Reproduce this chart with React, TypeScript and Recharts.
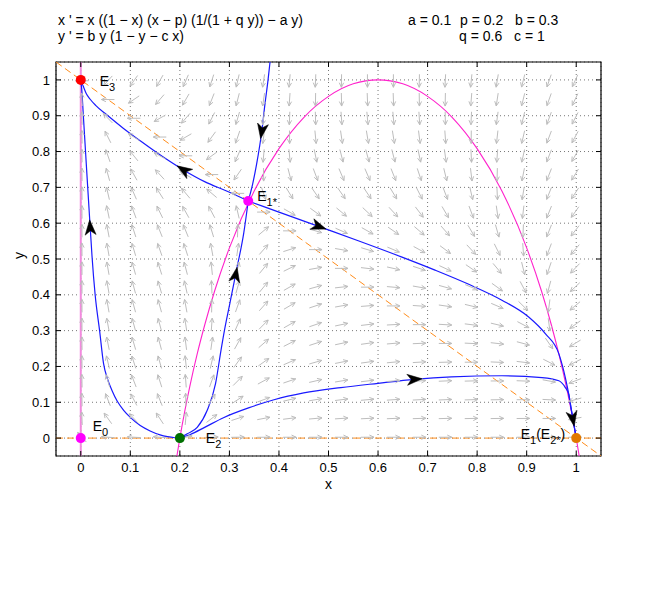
import React from "react";
import {
  ComposedChart,
  CartesianGrid,
  Line,
  ReferenceArea,
  ReferenceLine,
  Scatter,
  XAxis,
  YAxis,
} from "recharts";

// model parameters, as printed on the chart
const a = 0.1;
const p = 0.2;
const b = 0.3;
const q = 0.6;
const c = 1;

const ticks = [0, 0.1, 0.2, 0.3, 0.4, 0.5, 0.6, 0.7, 0.8, 0.9, 1];

// positions of the direction field arrows (same on both axes)
const fieldGrid = [
  0.0024, 0.0548, 0.1071, 0.1595, 0.2119, 0.2643, 0.3167, 0.369, 0.4214, 0.4738,
  0.5262, 0.5786, 0.631, 0.6833, 0.7357, 0.7881, 0.8405, 0.8929, 0.9452, 0.9976,
];

// x-nullcline (magenta)
const xNullcline = [
  { x: 0.194, y: -0.05 }, { x: 0.2, y: 0 }, { x: 0.21, y: 0.076 }, { x: 0.22, y: 0.144 },
  { x: 0.235, y: 0.235 }, { x: 0.25, y: 0.315 }, { x: 0.27, y: 0.41 }, { x: 0.3, y: 0.531 },
  { x: 0.35, y: 0.69 }, { x: 0.4, y: 0.808 }, { x: 0.45, y: 0.895 }, { x: 0.5, y: 0.954 },
  { x: 0.55, y: 0.989 }, { x: 0.6, y: 1.0 }, { x: 0.65, y: 0.989 }, { x: 0.7, y: 0.954 },
  { x: 0.75, y: 0.895 }, { x: 0.8, y: 0.808 }, { x: 0.85, y: 0.69 }, { x: 0.9, y: 0.531 },
  { x: 0.93, y: 0.41 }, { x: 0.95, y: 0.315 }, { x: 0.98, y: 0.144 }, { x: 0.99, y: 0.076 },
  { x: 1.0, y: 0 }, { x: 1.006, y: -0.05 },
];

// y-nullcline y = 1 - c x (orange dashed)
const yNullcline = [
  { x: -0.05, y: 1.05 },
  { x: 1.05, y: -0.05 },
];

// trajectories (blue)
const fromE2toE3 = [
  { x: 0, y: 1 }, { x: 0.0016, y: 0.98 }, { x: 0.0052, y: 0.9 }, { x: 0.0096, y: 0.8 },
  { x: 0.014, y: 0.7 }, { x: 0.0185, y: 0.6 }, { x: 0.0226, y: 0.51 }, { x: 0.029, y: 0.4 },
  { x: 0.038, y: 0.3 }, { x: 0.046, y: 0.208 }, { x: 0.054, y: 0.165 }, { x: 0.063, y: 0.133 },
  { x: 0.074, y: 0.102 }, { x: 0.087, y: 0.077 }, { x: 0.1, y: 0.058 }, { x: 0.12, y: 0.035 },
  { x: 0.14, y: 0.02 }, { x: 0.16, y: 0.009 }, { x: 0.175, y: 0.004 }, { x: 0.19, y: 0.001 },
  { x: 0.2, y: 0 },
];
const fromE2toE1s = [
  { x: 0.2, y: 0 }, { x: 0.215, y: 0.012 }, { x: 0.235, y: 0.03 }, { x: 0.255, y: 0.077 },
  { x: 0.272, y: 0.152 }, { x: 0.283, y: 0.245 }, { x: 0.29, y: 0.301 }, { x: 0.3, y: 0.37 },
  { x: 0.309, y: 0.432 }, { x: 0.316, y: 0.48 }, { x: 0.329, y: 0.573 }, { x: 0.338, y: 0.662 },
];
const fromTopToE1s = [
  { x: 0.338, y: 0.662 }, { x: 0.347, y: 0.71 }, { x: 0.3548, y: 0.764 }, { x: 0.3655, y: 0.858 },
  { x: 0.3718, y: 0.933 }, { x: 0.378, y: 1.0 }, { x: 0.382, y: 1.05 },
];
const fromE1sToE3 = [
  { x: 0, y: 1 }, { x: 0.003, y: 0.989 }, { x: 0.006, y: 0.979 }, { x: 0.011, y: 0.962 },
  { x: 0.019, y: 0.946 }, { x: 0.03, y: 0.929 }, { x: 0.053, y: 0.902 }, { x: 0.085, y: 0.866 },
  { x: 0.12, y: 0.83 }, { x: 0.165, y: 0.786 }, { x: 0.208, y: 0.748 }, { x: 0.25, y: 0.716 },
  { x: 0.2955, y: 0.689 }, { x: 0.338, y: 0.662 },
];
const fromE1sToE1 = [
  { x: 0.338, y: 0.662 }, { x: 0.4, y: 0.631 }, { x: 0.48, y: 0.591 }, { x: 0.56, y: 0.551 },
  { x: 0.647, y: 0.506 }, { x: 0.715, y: 0.469 }, { x: 0.782, y: 0.43 }, { x: 0.85, y: 0.385 },
  { x: 0.904, y: 0.338 }, { x: 0.938, y: 0.291 }, { x: 0.965, y: 0.235 }, { x: 0.978, y: 0.169 },
  { x: 0.985, y: 0.122 }, { x: 0.99, y: 0.08 }, { x: 0.995, y: 0.04 }, { x: 1, y: 0 },
];
const fromE2toE1 = [
  { x: 0.2, y: 0 }, { x: 0.221, y: 0.01 }, { x: 0.25, y: 0.03 }, { x: 0.288, y: 0.057 },
  { x: 0.34, y: 0.085 }, { x: 0.39, y: 0.107 }, { x: 0.45, y: 0.126 }, { x: 0.525, y: 0.141 },
  { x: 0.6, y: 0.153 }, { x: 0.673, y: 0.164 }, { x: 0.748, y: 0.171 }, { x: 0.85, y: 0.174 },
  { x: 0.931, y: 0.169 }, { x: 0.965, y: 0.16 }, { x: 0.978, y: 0.141 }, { x: 0.985, y: 0.122 },
  { x: 0.99, y: 0.08 }, { x: 0.995, y: 0.04 }, { x: 1, y: 0 },
];
const trajectories = [fromE2toE3, fromE2toE1s, fromTopToE1s, fromE1sToE3, fromE1sToE1, fromE2toE1];

// black arrowheads on the trajectories: position and a point further along
const trajArrows = [
  { x: 0.3655, y: 0.858, toX: 0.3548, toY: 0.764 },
  { x: 0.3125, y: 0.455, toX: 0.316, toY: 0.48 },
  { x: 0.208, y: 0.748, toX: 0.165, toY: 0.786 },
  { x: 0.48, y: 0.591, toX: 0.56, toY: 0.551 },
  { x: 0.673, y: 0.164, toX: 0.748, toY: 0.171 },
  { x: 0.993, y: 0.055, toX: 1, toY: 0 },
  { x: 0.019, y: 0.587, toX: 0.014, toY: 0.7 },
];

const equilibria = [
  { name: "E0", x: 0, y: 0 },
  { name: "E2", x: 0.2, y: 0 },
  { name: "E3", x: 0, y: 1 },
  { name: "E1*", x: 0.338, y: 0.662 },
  { name: "E1", x: 1, y: 0 },
];

const W = 663;
const H = 593;
const PLOT_W = 545;
const PLOT_H = 394;
const DOMAIN: [number, number] = [-0.05, 1.05];
const KX = PLOT_W / (DOMAIN[1] - DOMAIN[0]);
const KY = PLOT_H / (DOMAIN[1] - DOMAIN[0]);
const TICK_X = 5 / KX;
const TICK_Y = 5 / KY;

const FONT = '"Liberation Sans", Arial, Helvetica, sans-serif';

const eqStyle: Record<string, any> = {
  E0: { fill: "#ff00ff", dx: 12, dy: -7, anchor: "start", parts: [["E", 0], ["0", 1]] },
  E2: { fill: "#007000", dx: 26, dy: 4.5, anchor: "start", parts: [["E", 0], ["2", 1]] },
  E3: { fill: "#ff0000", dx: 19, dy: 6, anchor: "start", parts: [["E", 0], ["3", 1]] },
  "E1*": { fill: "#ff00ff", dx: 9, dy: 0, anchor: "start", parts: [["E", 0], ["1*", 1]] },
  E1: { fill: "#e07800", dx: -11, dy: 1, anchor: "end", parts: [["E", 0], ["1", 1], ["(E", 0], ["2*", 1], [")", 0]] },
};

// direction field from the equations shown above the plot
const field = fieldGrid.flatMap((y) =>
  fieldGrid.map((x) => ({
    x,
    y,
    u: x * ((1 - x) * (x - p) / (1 + q * y) - a * y),
    v: b * y * (1 - y - c * x),
  }))
);

const rot = (x: number, y: number, t: number) => [
  x * Math.cos(t) - y * Math.sin(t),
  x * Math.sin(t) + y * Math.cos(t),
];

const FieldArrow = (props: any) => {
  const { cx, cy, payload } = props;
  let dx = payload.u * KX;
  let dy = -payload.v * KY;
  const n = Math.hypot(dx, dy);
  if (!n || cx == null) return <g />;
  dx /= n;
  dy /= n;
  const L = 13;
  const x2 = cx + (dx * L) / 2;
  const y2 = cy + (dy * L) / 2;
  const [h1x, h1y] = rot(-dx, -dy, 0.45);
  const [h2x, h2y] = rot(-dx, -dy, -0.45);
  const h = 5;
  return (
    <path
      d={`M${cx - (dx * L) / 2},${cy - (dy * L) / 2}L${x2},${y2}M${x2 + h1x * h},${y2 + h1y * h}L${x2},${y2}L${x2 + h2x * h},${y2 + h2y * h}`}
      stroke="#bdbdbd"
      strokeWidth={1}
      fill="none"
    />
  );
};

const TrajArrow = (props: any) => {
  const { cx, cy, payload } = props;
  if (cx == null) return <g />;
  const ang = (Math.atan2(-(payload.toY - payload.y) * KY, (payload.toX - payload.x) * KX) * 180) / Math.PI;
  return (
    <path
      d="M8,0L-7,-5.5L-3,0L-7,5.5Z"
      transform={`translate(${cx},${cy}) rotate(${ang})`}
      fill="#000"
      stroke="#000"
      strokeWidth={0.5}
    />
  );
};

const EqPoint = (props: any) => {
  const { cx, cy, payload } = props;
  if (cx == null) return <g />;
  const s = eqStyle[payload.name];
  return (
    <g>
      <circle cx={cx} cy={cy} r={5} fill={s.fill} />
      <text x={cx + s.dx} y={cy + s.dy} textAnchor={s.anchor} fontSize={14} fill="#000">
        {s.parts.map(([t, sub]: [string, number], i: number) => {
          const prev = i > 0 ? s.parts[i - 1][1] : 0;
          const shift = (sub ? 5 : 0) - (prev ? 5 : 0);
          return (
            <tspan key={i} dy={shift} fontSize={sub ? 11 : 14}>
              {t}
            </tspan>
          );
        })}
      </text>
    </g>
  );
};

const textStyle: React.CSSProperties = {
  position: "absolute",
  fontSize: 14,
  lineHeight: "16px",
  whiteSpace: "pre",
  color: "#000",
};

export default function App() {
  return (
    <div style={{ position: "absolute", left: 0, top: 0, width: W, height: H, fontFamily: FONT, background: "#fff" }}>
      <div style={{ ...textStyle, left: 58, top: 12 }}>x ' = x ((1 − x) (x − p) (1/(1 + q y)) − a y)</div>
      <div style={{ ...textStyle, left: 58, top: 28 }}>y ' = b y (1 − y − c x)</div>
      <div style={{ ...textStyle, left: 408, top: 12 }}>a = 0.1</div>
      <div style={{ ...textStyle, left: 460, top: 12 }}>p = 0.2</div>
      <div style={{ ...textStyle, left: 515, top: 12 }}>b = 0.3</div>
      <div style={{ ...textStyle, left: 459, top: 28 }}>q = 0.6</div>
      <div style={{ ...textStyle, left: 514, top: 28 }}>c = 1</div>
      <ComposedChart width={W} height={H} margin={{ top: 62, right: 62, left: 0, bottom: 101 }}>
        <CartesianGrid stroke="#777" strokeDasharray="1 3" />
        <XAxis
          dataKey="x"
          type="number"
          domain={DOMAIN}
          ticks={ticks}
          interval={0}
          allowDataOverflow
          axisLine={false}
          tickLine={false}
          tickSize={4}
          tickMargin={3}
          height={36}
          tick={{ fontSize: 13, fill: "#000" }}
          label={{ value: "x", position: "insideBottom", offset: 3, fontSize: 14, fill: "#000" }}
        />
        <YAxis
          dataKey="y"
          type="number"
          domain={DOMAIN}
          ticks={ticks}
          interval={0}
          allowDataOverflow
          axisLine={false}
          tickLine={false}
          tickSize={3}
          tickMargin={3}
          width={56}
          tick={{ fontSize: 13, fill: "#000" }}
          label={{ value: "y", angle: -90, position: "insideLeft", offset: 19, fontSize: 14, fill: "#000" }}
        />
        <ReferenceLine x={0} stroke="#f28ade" strokeWidth={2} />
        <Scatter data={field} shape={FieldArrow} isAnimationActive={false} />
        <ReferenceLine y={0} stroke="#ff8c1a" strokeDasharray="7 4" />
        <Line data={yNullcline} dataKey="y" type="linear" stroke="#ff8c1a" strokeDasharray="7 4" dot={false} activeDot={false} isAnimationActive={false} />
        <Line data={xNullcline} dataKey="y" type="monotone" stroke="#ff22cc" strokeWidth={1.1} dot={false} activeDot={false} isAnimationActive={false} />
        {trajectories.map((t, i) => (
          <Line key={i} data={t} dataKey="y" type="monotone" stroke="#1a1aff" strokeWidth={1.2} dot={false} activeDot={false} isAnimationActive={false} />
        ))}
        <Scatter data={trajArrows} shape={TrajArrow} isAnimationActive={false} />
        <Scatter data={equilibria} shape={EqPoint} isAnimationActive={false} />
        <ReferenceArea x1={DOMAIN[0]} x2={DOMAIN[1]} y1={DOMAIN[0]} y2={DOMAIN[1]} fill="none" fillOpacity={0} stroke="#000" strokeWidth={1.2} />
        {ticks.map((t) => (
          <ReferenceLine key={`b${t}`} segment={[{ x: t, y: DOMAIN[0] }, { x: t, y: DOMAIN[0] + TICK_Y }]} stroke="#000" />
        ))}
        {ticks.map((t) => (
          <ReferenceLine key={`t${t}`} segment={[{ x: t, y: DOMAIN[1] }, { x: t, y: DOMAIN[1] - TICK_Y }]} stroke="#000" />
        ))}
        {ticks.map((t) => (
          <ReferenceLine key={`l${t}`} segment={[{ x: DOMAIN[0], y: t }, { x: DOMAIN[0] + TICK_X, y: t }]} stroke="#000" />
        ))}
        {ticks.map((t) => (
          <ReferenceLine key={`r${t}`} segment={[{ x: DOMAIN[1], y: t }, { x: DOMAIN[1] - TICK_X, y: t }]} stroke="#000" />
        ))}
      </ComposedChart>
    </div>
  );
}
